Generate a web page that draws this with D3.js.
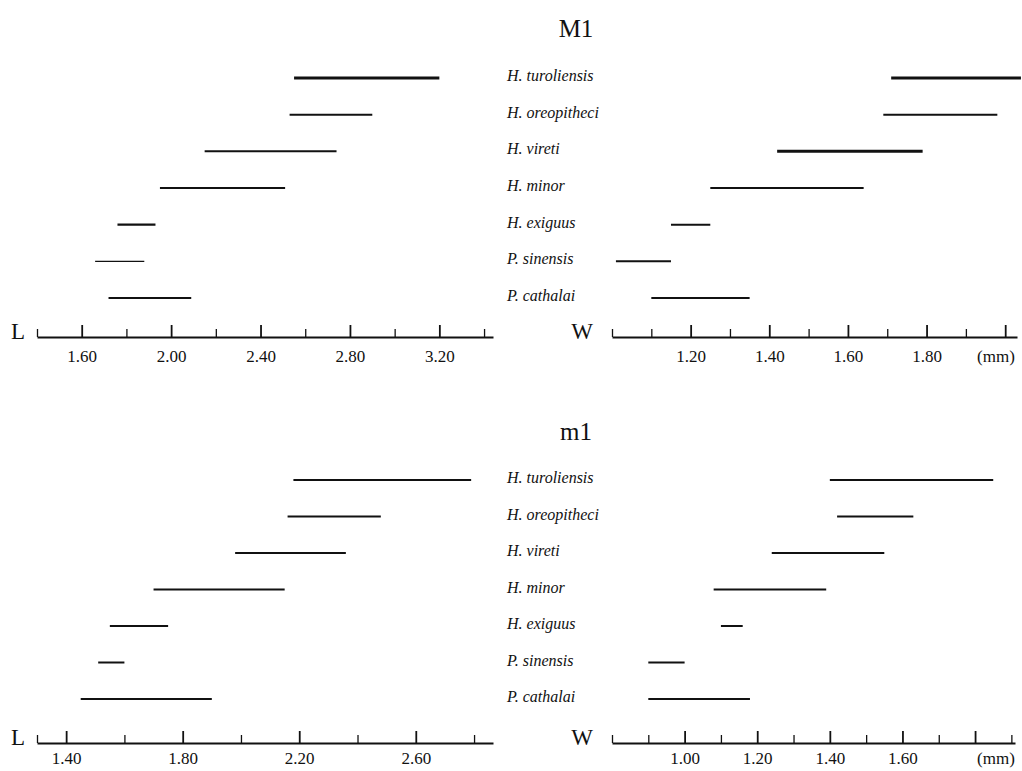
<!DOCTYPE html>
<html>
<head>
<meta charset="utf-8">
<script src="https://cdn.jsdelivr.net/npm/d3@7"></script>
<style>
  html, body { margin: 0; padding: 0; background: #fff; }
  svg { display: block; }
  text { font-family: "Liberation Serif", "Times New Roman", serif; fill: #111; }
</style>
</head>
<body>
<svg id="chart" width="1022" height="771"></svg>
<script>
// ---------------- DATA ----------------
const species = ["H. turoliensis", "H. oreopitheci", "H. vireti", "H. minor", "H. exiguus", "P. sinensis", "P. cathalai"];

// Upper first molar (M1)
const upperLengthMin = [2.55, 2.53, 2.15, 1.95, 1.76, 1.66, 1.72];
const upperLengthMax = [3.20, 2.90, 2.74, 2.51, 1.93, 1.88, 2.09];
const upperWidthMin  = [1.71, 1.69, 1.42, 1.25, 1.15, 1.01, 1.10];
const upperWidthMax  = [2.04, 1.98, 1.79, 1.64, 1.25, 1.15, 1.35];

// Lower first molar (m1)
const lowerLengthMin = [2.18, 2.16, 1.98, 1.70, 1.55, 1.51, 1.45];
const lowerLengthMax = [2.79, 2.48, 2.36, 2.15, 1.75, 1.60, 1.90];
const lowerWidthMin  = [1.40, 1.42, 1.24, 1.08, 1.10, 0.90, 0.90];
const lowerWidthMax  = [1.85, 1.63, 1.55, 1.39, 1.16, 1.00, 1.18];

// Tick values
const upperLengthMajor = [1.60, 2.00, 2.40, 2.80, 3.20];
const upperLengthMinor = [1.40, 1.80, 2.20, 2.60, 3.00, 3.40];
const upperWidthMajor  = [1.20, 1.40, 1.60, 1.80, 2.00];
const upperWidthLabels = [1.20, 1.40, 1.60, 1.80];
const upperWidthMinor  = [1.00, 1.10, 1.30, 1.50, 1.70, 1.90];
const lowerLengthMajor = [1.40, 1.80, 2.20, 2.60];
const lowerLengthMinor = [1.30, 1.60, 2.00, 2.40, 2.80];
const lowerWidthMajor  = [1.00, 1.20, 1.40, 1.60, 1.80];
const lowerWidthLabels = [1.00, 1.20, 1.40, 1.60];
const lowerWidthMinor  = [0.80, 0.90, 1.10, 1.30, 1.50, 1.70, 1.90];

// Line weights (style)
const upperLengthWeights = [3, 2, 2, 2, 2.2, 1.2, 2];
const upperWidthWeights  = [3, 2, 3, 2, 2, 2, 2];
const lowerWeights       = [2, 2, 2, 2, 2, 2, 2];

// ---------------- DRAW ----------------
const svg = d3.select("#chart");
const fmt = d3.format(".2f");

function panel(opts) {
  const g = svg.append("g");
  const x = d3.scaleLinear().domain(opts.domain).range(opts.range);
  const y = d3.scalePoint().domain(species).range(opts.rows);

  // range bars
  g.selectAll("line.bar").data(species).join("line")
    .attr("class", "bar")
    .attr("x1", (d, i) => x(opts.min[i]))
    .attr("x2", (d, i) => x(opts.max[i]))
    .attr("y1", d => y(d))
    .attr("y2", d => y(d))
    .attr("stroke", "#111")
    .attr("stroke-width", (d, i) => opts.weights[i]);

  // minor ticks + domain
  const minorAxis = d3.axisBottom(x).tickValues(opts.minor).tickSize(-8).tickSizeOuter(0).tickFormat("");
  const ga = g.append("g").attr("transform", `translate(0,${opts.axisY})`).call(minorAxis);
  ga.select(".domain").attr("stroke", "#111").attr("stroke-width", 2);
  ga.selectAll(".tick line").attr("stroke", "#111").attr("stroke-width", 1.3);

  // major ticks with labels
  const majorAxis = d3.axisBottom(x).tickValues(opts.major).tickSize(-12).tickSizeOuter(0).tickPadding(opts.pad)
    .tickFormat(d => opts.labels.some(v => Math.abs(v - d) < 1e-9) ? fmt(d) : "");
  const gb = g.append("g").attr("transform", `translate(0,${opts.axisY})`).call(majorAxis);
  gb.select(".domain").remove();
  gb.selectAll(".tick line").attr("stroke", "#111").attr("stroke-width", 1.8);
  gb.selectAll(".tick text")
    .style("font-family", "'Liberation Serif', serif")
    .attr("font-size", 17).attr("fill", "#111");

  // axis letter
  g.append("text").attr("x", opts.letterX).attr("y", opts.axisY + 2)
    .attr("text-anchor", "middle").attr("font-size", 23).text(opts.letter);

  if (opts.mm) {
    g.append("text").attr("x", 996).attr("y", opts.axisY + opts.pad).attr("dy", "0.71em")
      .attr("text-anchor", "middle").attr("font-size", 17).text("(mm)");
  }
  return y;
}

function section(title, titleY, rows, axisY, pad, L, W) {
  svg.append("text").attr("x", 576).attr("y", titleY)
    .attr("text-anchor", "middle").attr("font-size", 25).text(title);

  const y = panel(Object.assign({ rows, axisY, pad, letter: "L", letterX: 18 }, L));
  panel(Object.assign({ rows, axisY, pad, letter: "W", letterX: 582, mm: true }, W));

  svg.append("g").selectAll("text").data(species).join("text")
    .attr("x", 507)
    .attr("y", d => y(d) + 3)
    .attr("font-size", 16)
    .attr("font-style", "italic")
    .text(d => d);
}

section("M1", 37, [78, 298], 337, 13,
  { domain: [1.40, 3.44], range: [37, 493], min: upperLengthMin, max: upperLengthMax,
    major: upperLengthMajor, labels: upperLengthMajor, minor: upperLengthMinor, weights: upperLengthWeights },
  { domain: [1.00, 2.03], range: [612, 1017], min: upperWidthMin, max: upperWidthMax,
    major: upperWidthMajor, labels: upperWidthLabels, minor: upperWidthMinor, weights: upperWidthWeights });

section("m1", 440, [480, 699], 743, 9,
  { domain: [1.30, 2.865], range: [37, 493], min: lowerLengthMin, max: lowerLengthMax,
    major: lowerLengthMajor, labels: lowerLengthMajor, minor: lowerLengthMinor, weights: lowerWeights },
  { domain: [0.80, 1.91], range: [612, 1015], min: lowerWidthMin, max: lowerWidthMax,
    major: lowerWidthMajor, labels: lowerWidthLabels, minor: lowerWidthMinor, weights: lowerWeights });
</script>
</body>
</html>
